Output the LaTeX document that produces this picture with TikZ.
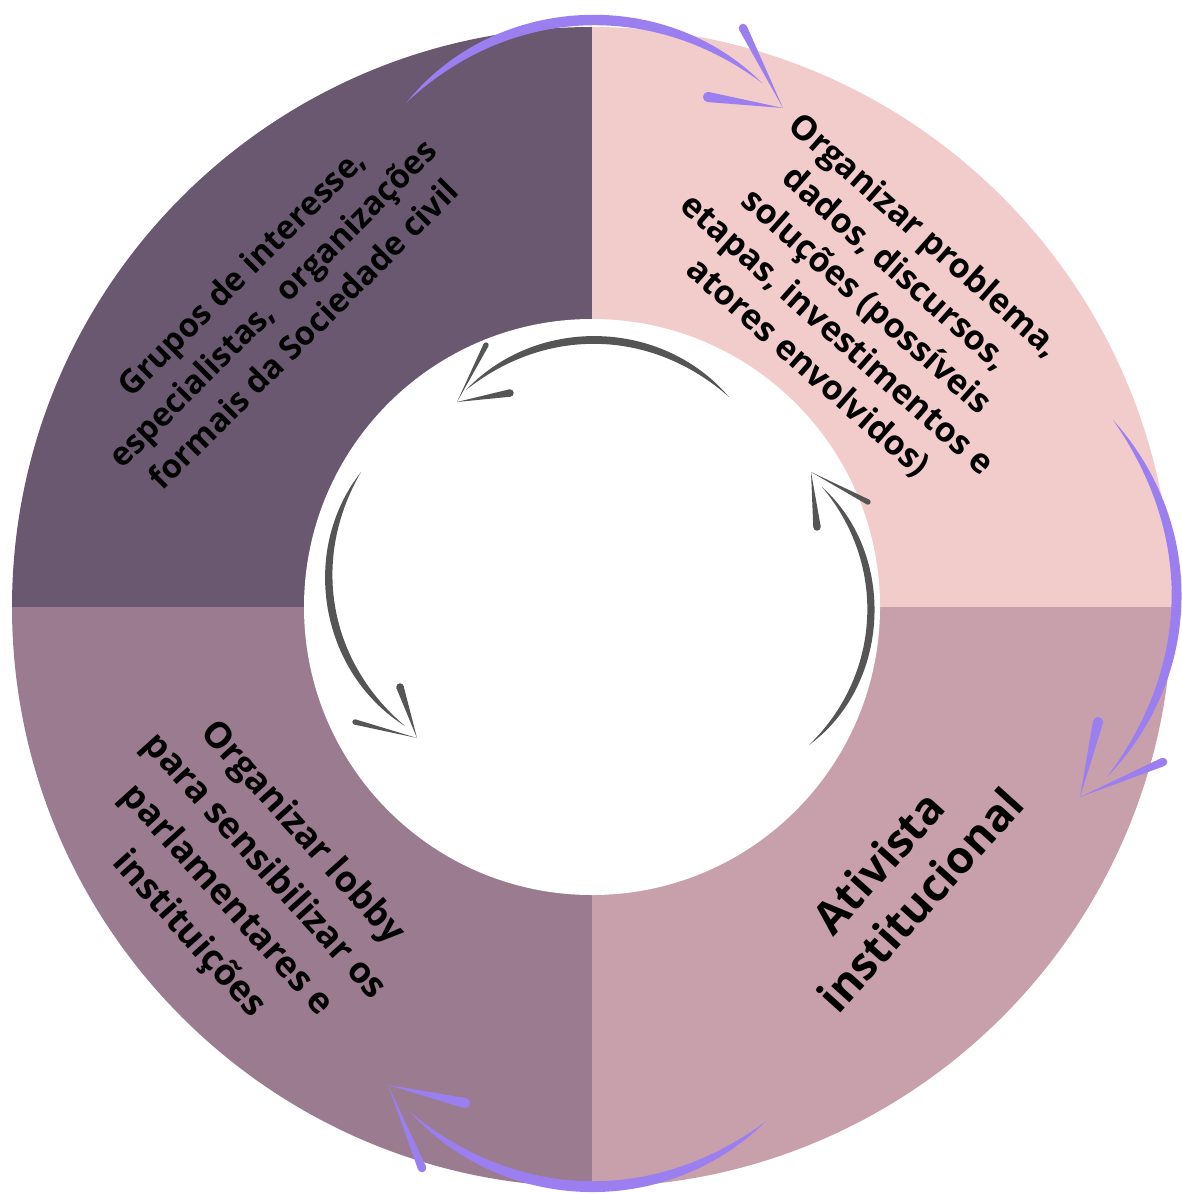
\documentclass[tikz,border=0pt]{standalone}
\usepackage{fontspec}
\setmainfont{Open Sans}
\usetikzlibrary{calc}

\definecolor{quadTL}{HTML}{6A5870}
\definecolor{quadTR}{HTML}{F2CBCB}
\definecolor{quadBR}{HTML}{C7A0AB}
\definecolor{quadBL}{HTML}{9A7B8F}
\definecolor{brushpurple}{HTML}{9B7EF0}
\definecolor{brushgray}{HTML}{555555}

\tikzset{
  quadtext/.style={align=center, text=black, inner sep=0pt},
}

% tapered barb: colour, thick end, tip, half width
\newcommand{\brushbarb}[4]{%
  \fill[#1] (#3) -- ($(#2)!#4!90:(#3)$) -- ($(#2)!#4!-90:(#3)$) -- cycle;
  \fill[#1] (#2) circle[radius=#4];
}

\begin{document}
\begin{tikzpicture}[x=0.75pt,y=-0.75pt]
    \useasboundingbox (0,0) rectangle (1181,1194);
    \coordinate (c) at (592,607);

    %Ring
    \begin{scope}
      \clip (c) circle[radius=580];
      \fill[quadTL] (0,0) rectangle (c);
      \fill[quadTR] (1181,0) rectangle (c);
      \fill[quadBR] (1181,1194) rectangle (c);
      \fill[quadBL] (0,1194) rectangle (c);
    \end{scope}
    \fill[white] (c) circle[radius=288];

    %Texts
    \node[quadtext, rotate=45, font=\fontsize{24.5}{33}\selectfont\bfseries] (grupos) at (272,303)
      {Grupos de interesse,\\especialistas,\ \ organizações\\formais da Sociedade civil};
    \node[quadtext, rotate=-41.5, font=\fontsize{25.5}{33}\selectfont\bfseries] (organizar) at (866,302)
      {Organizar problema,\\dados, discursos,\\soluções (possíveis\\etapas, investimentos e\\atores envolvidos)};
    \node[quadtext, rotate=48, font=\fontsize{33.5}{42}\selectfont\bfseries] (ativista) at (899,881)
      {Ativista\\institucional};
    \node[quadtext, rotate=-48, font=\fontsize{27}{38}\selectfont\bfseries] (lobby) at (245,884)
      {Organizar lobby\\para sensibilizar os\\parlamentares e\\instituições};

    %Outer arrows
    \coordinate (topS) at (407,102);
    \coordinate (topE) at (762,83);
    \coordinate (topT) at (783,108);
    \coordinate (topB1) at (743,28);
    \coordinate (topB2) at (708,97);
    \fill[brushpurple] (topS) to[bend left=48] (topE) to[bend right=40] (topS);
    \brushbarb{brushpurple}{topB1}{topT}{3.2pt}
    \brushbarb{brushpurple}{topB2}{topT}{3.8pt}

    \coordinate (rightS) at (1113,420);
    \coordinate (rightE) at (1107,777);
    \coordinate (rightT) at (1080,797);
    \coordinate (rightB1) at (1098,722);
    \coordinate (rightB2) at (1163,762);
    \fill[brushpurple] (rightS) to[bend left=43] (rightE) to[bend right=36] (rightS);
    \brushbarb{brushpurple}{rightB1}{rightT}{3.8pt}
    \brushbarb{brushpurple}{rightB2}{rightT}{3.2pt}

    \coordinate (botS) at (765,1122);
    \coordinate (botE) at (410,1112);
    \coordinate (botT) at (388,1085);
    \coordinate (botB1) at (422,1168);
    \coordinate (botB2) at (465,1103);
    \fill[brushpurple] (botS) to[bend left=46] (botE) to[bend right=38] (botS);
    \brushbarb{brushpurple}{botB1}{botT}{3.2pt}
    \brushbarb{brushpurple}{botB2}{botT}{3.8pt}

    %Inner arrows
    \coordinate (inTopS) at (729,397);
    \coordinate (inTopE) at (466,390);
    \coordinate (inTopT) at (457,402);
    \coordinate (inTopB1) at (486,345);
    \coordinate (inTopB2) at (510,393);
    \fill[brushgray] (inTopS) to[bend right=48] (inTopE) to[bend left=40] (inTopS);
    \brushbarb{brushgray}{inTopB1}{inTopT}{2pt}
    \brushbarb{brushgray}{inTopB2}{inTopT}{2.8pt}

    \coordinate (inLeftS) at (361,472);
    \coordinate (inLeftE) at (405,726);
    \coordinate (inLeftT) at (417,738);
    \coordinate (inLeftB1) at (400,687);
    \coordinate (inLeftB2) at (355,722);
    \fill[brushgray] (inLeftS) to[bend right=48] (inLeftE) to[bend left=40] (inLeftS);
    \brushbarb{brushgray}{inLeftB1}{inLeftT}{2.8pt}
    \brushbarb{brushgray}{inLeftB2}{inLeftT}{2pt}

    \coordinate (inRightS) at (809,745);
    \coordinate (inRightE) at (822,487);
    \coordinate (inRightT) at (811,472);
    \coordinate (inRightB1) at (817,527);
    \coordinate (inRightB2) at (868,502);
    \fill[brushgray] (inRightS) to[bend right=51] (inRightE) to[bend left=43] (inRightS);
    \brushbarb{brushgray}{inRightB1}{inRightT}{2.8pt}
    \brushbarb{brushgray}{inRightB2}{inRightT}{2pt}
\end{tikzpicture}
\end{document}
